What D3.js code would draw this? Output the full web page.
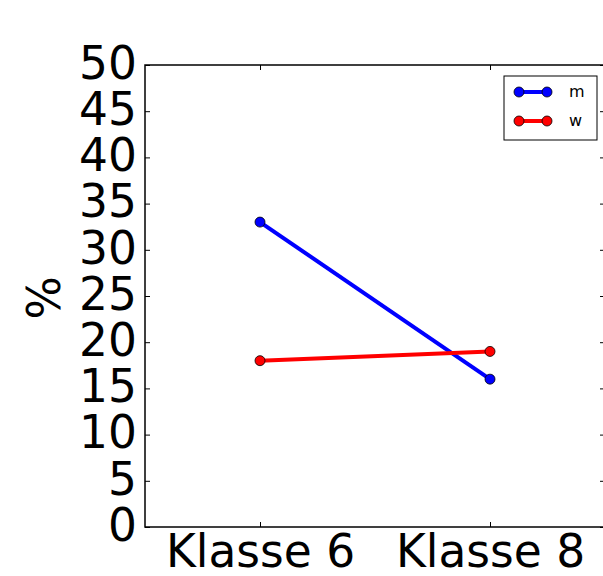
<!DOCTYPE html>
<html>
<head>
<meta charset="utf-8">
<script src="https://cdn.jsdelivr.net/npm/d3@7"></script>
<style>
  html, body { margin: 0; padding: 0; background: #fff; }
  svg { display: block; font-family: "DejaVu Sans", sans-serif; }
</style>
</head>
<body>
<svg id="chart" width="603" height="576"></svg>
<script>
// Share (%) by grade, split by gender
const categories = ["Klasse 6", "Klasse 8"];
const seriesNames = ["m", "w"];
const valuesM = [33, 16];
const valuesW = [18, 19];
const seriesColors = ["#0000ff", "#ff0000"];
const yTicks = [0, 5, 10, 15, 20, 25, 30, 35, 40, 45, 50];

const series = [
  { name: seriesNames[0], values: valuesM, color: seriesColors[0] },
  { name: seriesNames[1], values: valuesW, color: seriesColors[1] }
];

const svg = d3.select("#chart");
const margin = { left: 145, top: 65, right: 605, bottom: 527 };

const x = d3.scaleLinear().domain([-0.5, 1.5]).range([margin.left, margin.right]);
const y = d3.scaleLinear().domain([0, 50]).range([margin.bottom, margin.top]);

const fontSize = 45.5;
const tickLen = 5;

// Y tick labels (left side) and inward ticks on both sides
const yAxisL = svg.append("g").attr("transform", `translate(${margin.left},0)`)
  .call(d3.axisLeft(y).tickValues(yTicks).tickSize(-tickLen).tickPadding(tickLen + 3));
const yAxisR = svg.append("g").attr("transform", `translate(${margin.right},0)`)
  .call(d3.axisRight(y).tickValues(yTicks).tickSize(-tickLen).tickFormat(""));

// X tick labels below, inward ticks on bottom and top
const xAxisB = svg.append("g").attr("transform", `translate(0,${margin.bottom})`)
  .call(d3.axisBottom(x).tickValues([0, 1]).tickFormat(i => categories[i])
    .tickSize(-tickLen).tickPadding(8));
const xAxisT = svg.append("g").attr("transform", `translate(0,${margin.top})`)
  .call(d3.axisTop(x).tickValues([0, 1]).tickFormat("").tickSize(-tickLen));

[yAxisL, yAxisR, xAxisB, xAxisT].forEach(g => {
  g.select(".domain").remove();
  g.selectAll(".tick line").attr("stroke", "#000").attr("stroke-width", 1);
  g.selectAll(".tick text").attr("font-size", fontSize).attr("fill", "#000")
    .attr("font-family", "DejaVu Sans, sans-serif");
});
yAxisL.selectAll(".tick text").attr("dy", "0.29em");
xAxisB.selectAll(".tick text").attr("dy", "0.71em");

// Frame
svg.append("rect")
  .attr("x", margin.left).attr("y", margin.top)
  .attr("width", margin.right - margin.left).attr("height", margin.bottom - margin.top)
  .attr("fill", "none").attr("stroke", "#000").attr("stroke-width", 1.5);

// Y axis title
svg.append("text")
  .attr("transform", `translate(60,${(margin.top + margin.bottom) / 2 + 2}) rotate(-90)`)
  .attr("text-anchor", "middle")
  .attr("font-size", fontSize)
  .text("%");

// Lines and markers
const line = d3.line().x((d, i) => x(i)).y(d => y(d));
series.forEach(s => {
  svg.append("path")
    .datum(s.values)
    .attr("d", line)
    .attr("fill", "none")
    .attr("stroke", s.color)
    .attr("stroke-width", 4);
  svg.selectAll(null).data(s.values).enter().append("circle")
    .attr("cx", (d, i) => x(i))
    .attr("cy", d => y(d))
    .attr("r", 5)
    .attr("fill", s.color)
    .attr("stroke", "#000")
    .attr("stroke-width", 0.8);
});

// Legend
const legend = svg.append("g").attr("transform", "translate(504,76)");
legend.append("rect")
  .attr("width", 93).attr("height", 64)
  .attr("fill", "#fff").attr("stroke", "#000").attr("stroke-width", 1);
series.forEach((s, i) => {
  const ly = 16 + i * 29;
  legend.append("line")
    .attr("x1", 15).attr("x2", 43).attr("y1", ly).attr("y2", ly)
    .attr("stroke", s.color).attr("stroke-width", 4);
  [15, 43].forEach(cx => legend.append("circle")
    .attr("cx", cx).attr("cy", ly).attr("r", 5)
    .attr("fill", s.color).attr("stroke", "#000").attr("stroke-width", 0.8));
  legend.append("text")
    .attr("x", 65).attr("y", ly).attr("dy", "0.32em")
    .attr("font-size", 16)
    .text(s.name);
});
</script>
</body>
</html>
